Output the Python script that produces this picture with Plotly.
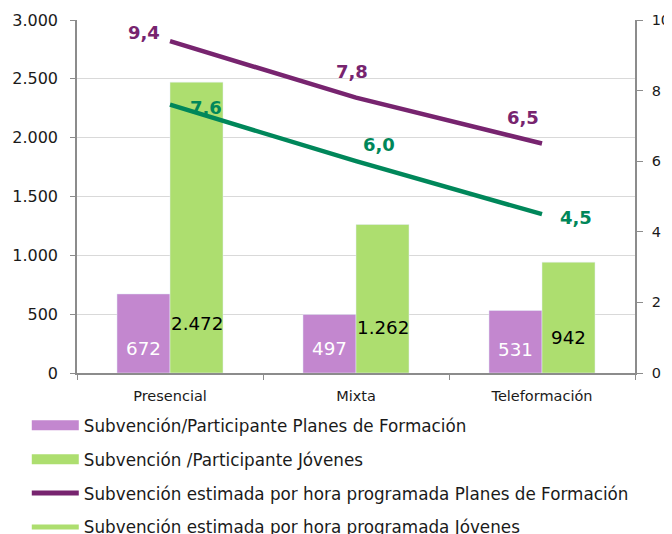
import plotly.graph_objects as go

categories = ["Presencial", "Mixta", "Teleformación"]
planes_part = [672, 497, 531]
jovenes_part = [2472, 1262, 942]
planes_hora = [9.4, 7.8, 6.5]
jovenes_hora = [7.6, 6.0, 4.5]
y_ticks = [0, 500, 1000, 1500, 2000, 2500, 3000]

names = [
    "Subvención/Participante Planes de Formación",
    "Subvención /Participante Jóvenes",
    "Subvención estimada por hora programada Planes de Formación",
    "Subvención estimada por hora programada Jóvenes",
]

C_PB = "#C387CF"
C_GB = "#ADDE6F"
C_PL = "#77246F"
C_GL = "#00875A"
FONT = "DejaVu Sans"

def fmt(v):
    return f"{v:,.0f}".replace(",", ".")

def fmtd(v):
    return f"{v:.1f}".replace(".", ",")

fig = go.Figure()
fig.add_trace(go.Bar(x=categories, y=planes_part, marker_color=C_PB, showlegend=False))
fig.add_trace(go.Bar(x=categories, y=jovenes_part, marker_color=C_GB, showlegend=False))
fig.add_trace(go.Scatter(x=categories, y=planes_hora, yaxis="y2", mode="lines",
                         line=dict(color=C_PL, width=4.5), showlegend=False))
fig.add_trace(go.Scatter(x=categories, y=jovenes_hora, yaxis="y2", mode="lines",
                         line=dict(color=C_GL, width=4.5), showlegend=False))

# bar value labels
purple_lift = [25, 25, 24]
green_lift = [50, 46, 36]
for c, v, s in zip(categories, planes_part, purple_lift):
    fig.add_annotation(x=c, y=0, xshift=-26.5, yshift=s, text=fmt(v), showarrow=False,
                       font=dict(size=18.3, color="white", family=FONT))
for c, v, s in zip(categories, jovenes_part, green_lift):
    fig.add_annotation(x=c, y=0, xshift=26.5, yshift=s, text=fmt(v), showarrow=False,
                       font=dict(size=18.3, color="black", family=FONT))

# line value labels
p_off = [(-26, 9), (-4, 26), (-19, 26)]
g_off = [(36, -3), (23, 17), (34, -3)]
for c, v, (dx, dy) in zip(categories, planes_hora, p_off):
    fig.add_annotation(x=c, y=v, yref="y2", xshift=dx, yshift=dy, text=fmtd(v),
                       showarrow=False,
                       font=dict(size=18, color=C_PL, family=FONT, weight="bold"))
for c, v, (dx, dy) in zip(categories, jovenes_hora, g_off):
    fig.add_annotation(x=c, y=v, yref="y2", xshift=dx, yshift=dy, text=fmtd(v),
                       showarrow=False,
                       font=dict(size=18, color=C_GL, family=FONT, weight="bold"))

# legend entries
leg_cols = [C_PB, C_GB, C_PL, C_GB]
leg_w = [10, 10, 5, 5]
for i, (n, col, w) in enumerate(zip(names, leg_cols, leg_w)):
    fig.add_trace(go.Scatter(x=[None], y=[None], mode="lines", name=n,
                             line=dict(color=col, width=w), legendgroup=f"g{i}"))

# the page adds an 8px body margin, so the figure is 8px smaller and shifted
fig.update_layout(
    width=664, height=526,
    margin=dict(l=69, r=37, t=12, b=161, autoexpand=False),
    plot_bgcolor="white", paper_bgcolor="white",
    font=dict(family=FONT, size=16, color="#1a1a1a"),
    barmode="group", bargap=0.43, bargroupgap=0,
    showlegend=True,
    legend=dict(x=-0.09, y=-0.099, xanchor="left", yanchor="top", orientation="v",
                tracegroupgap=9, font=dict(size=16.8, color="#1a1a1a", family=FONT),
                itemwidth=47),
    xaxis=dict(showline=True, linecolor="#8c8c8c", linewidth=1.5, ticks="outside",
               tickson="boundaries", tickcolor="#8c8c8c", ticklen=5,
               tickfont=dict(size=14.5), ticklabelstandoff=9, automargin=False),
    yaxis=dict(range=[0, 3000], tickvals=y_ticks, ticktext=[fmt(v) for v in y_ticks],
               showline=True, linecolor="#8c8c8c", linewidth=1.5, ticks="outside",
               tickcolor="#8c8c8c", ticklen=5, gridcolor="#d9d9d9", zeroline=False,
               tickfont=dict(size=16), ticklabelstandoff=9, automargin=False),
    yaxis2=dict(range=[0, 10], dtick=2, overlaying="y", side="right", showgrid=False,
                showline=True, linecolor="#8c8c8c", linewidth=1.5, ticks="outside",
                tickcolor="#8c8c8c", ticklen=6, zeroline=False,
                tickfont=dict(size=14.5), ticklabelstandoff=6, automargin=False),
)

fig.write_html("out.html")
